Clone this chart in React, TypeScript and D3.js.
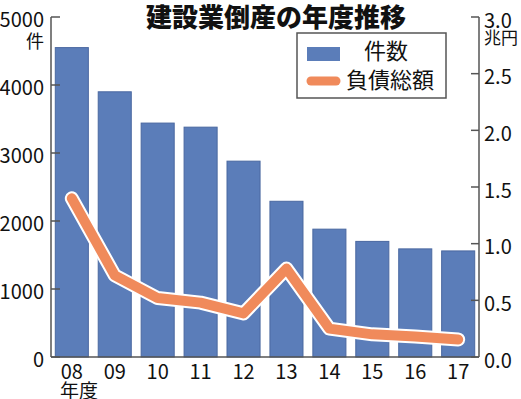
import React from "react";
import * as d3 from "d3";

const years = ["08", "09", "10", "11", "12", "13", "14", "15", "16", "17"];
const counts = [4550, 3900, 3440, 3380, 2880, 2290, 1880, 1700, 1590, 1560];
const debts = [1.4, 0.72, 0.52, 0.48, 0.385, 0.78, 0.25, 0.2, 0.18, 0.155];
const leftTicks = [0, 1000, 2000, 3000, 4000, 5000];
const rightTicks = [0, 0.5, 1.0, 1.5, 2.0, 2.5, 3.0];

const FONT = "'Noto Sans CJK JP', 'Noto Sans', sans-serif";
const BAR = "#5b7db9";
const BAR_EDGE = "#4a68a0";
const LINE = "#f08a5b";
const AXIS = "#555";

export default function App() {
  const W = 521;
  const H = 399;
  const left = 51;
  const right = 479;
  const top = 17;
  const bottom = 357;

  const x = d3.scaleBand<string>().domain(years).range([left, right]).paddingInner(0.23).paddingOuter(0.1);
  const yL = d3.scaleLinear().domain([0, 5000]).range([bottom, top]);
  const yR = d3.scaleLinear().domain([0, 3]).range([bottom, top]);

  const line = d3
    .line<number>()
    .x((_, i) => (x(years[i]) as number) + x.bandwidth() / 2)
    .y((d) => yR(d));
  const path = line(debts) || "";

  return (
    <svg
      width={W}
      height={H}
      style={{ position: "absolute", left: 0, top: 0, background: "#fff" }}
      fontFamily={FONT}
    >
      <rect x={0} y={0} width={W} height={H} fill="#fff" />
      {counts.map((c, i) => (
        <rect
          key={years[i]}
          x={x(years[i])}
          y={yL(c)}
          width={x.bandwidth()}
          height={bottom - yL(c)}
          fill={BAR}
          stroke={BAR_EDGE}
          strokeWidth={1}
        />
      ))}
      <path d={path} fill="none" stroke="#fff" strokeWidth={14} strokeLinejoin="round" strokeLinecap="round" />
      <path d={path} fill="none" stroke={LINE} strokeWidth={10} strokeLinejoin="round" strokeLinecap="round" />

      <line x1={left} x2={left} y1={top} y2={bottom} stroke={AXIS} strokeWidth={1.5} />
      <line x1={right} x2={right} y1={top} y2={bottom} stroke={AXIS} strokeWidth={1.5} />
      <line x1={left} x2={right} y1={bottom} y2={bottom} stroke={AXIS} strokeWidth={1.5} />
      {leftTicks.map((t) => (
        <g key={"l" + t}>
          <line x1={left} x2={left + 9} y1={yL(t)} y2={yL(t)} stroke={AXIS} strokeWidth={1.5} />
          <text x={44} y={yL(t) + 1} textAnchor="end" dominantBaseline="central" fontSize={20} fill="#111">
            {t}
          </text>
        </g>
      ))}
      {rightTicks.map((t) => (
        <g key={"r" + t}>
          <line x1={right - 8} x2={right} y1={yR(t)} y2={yR(t)} stroke={AXIS} strokeWidth={1.5} />
          <text x={484} y={yR(t) + 2} textAnchor="start" dominantBaseline="central" fontSize={20} fill="#111">
            {t.toFixed(1)}
          </text>
        </g>
      ))}
      <text x={44} y={40} textAnchor="end" dominantBaseline="central" fontSize={18} fill="#111">
        件
      </text>
      <text x={484} y={36} textAnchor="start" dominantBaseline="central" fontSize={17} fill="#111">
        兆円
      </text>
      {years.map((yr) => (
        <text
          key={"x" + yr}
          x={(x(yr) as number) + x.bandwidth() / 2}
          y={370}
          textAnchor="middle"
          dominantBaseline="central"
          fontSize={20}
          fill="#111"
        >
          {yr}
        </text>
      ))}
      <text x={60} y={389} textAnchor="start" dominantBaseline="central" fontSize={19} fill="#111">
        年度
      </text>

      <text x={276} y={15} textAnchor="middle" dominantBaseline="central" fontSize={26} fontWeight={900} fill="#111">
        建設業倒産の年度推移
      </text>

      <rect x={297} y={33} width={149} height={65} fill="#fff" stroke={AXIS} strokeWidth={1.5} />
      <rect x={307} y={47} width={33} height={14} fill={BAR} />
      <text x={386} y={49} textAnchor="middle" dominantBaseline="central" fontSize={22} fill="#111">
        件数
      </text>
      <line x1={311} x2={336} y1={81} y2={81} stroke={LINE} strokeWidth={9} strokeLinecap="round" />
      <text x={346} y={78} textAnchor="start" dominantBaseline="central" fontSize={22} fill="#111">
        負債総額
      </text>
    </svg>
  );
}
